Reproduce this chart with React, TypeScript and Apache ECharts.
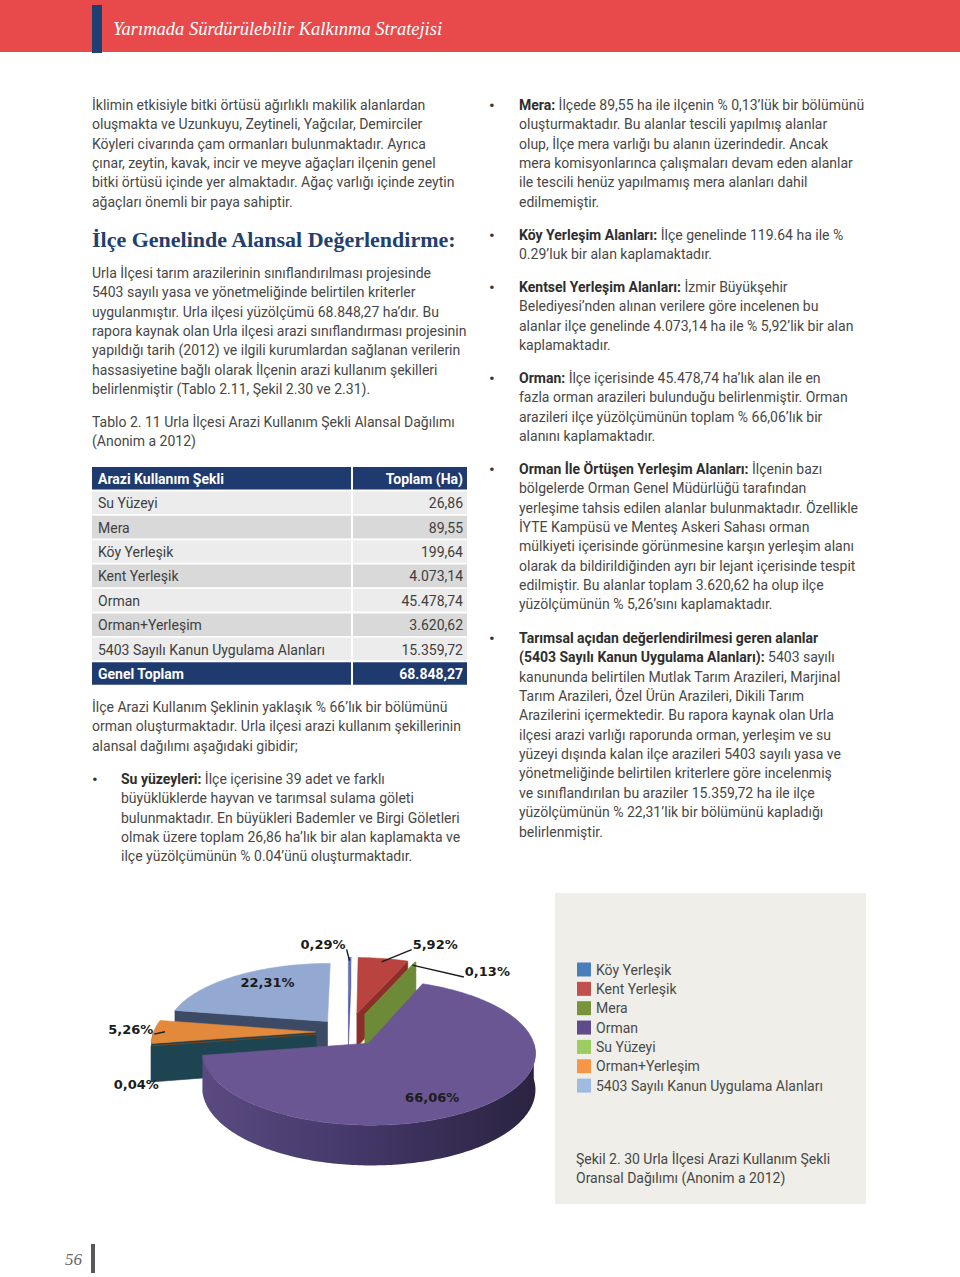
import React, { useEffect, useRef } from "react";
import * as echarts from "echarts";

// ---------- DATA ----------
const categories = [
  "Köy Yerleşik",
  "Kent Yerleşik",
  "Mera",
  "Orman",
  "Su Yüzeyi",
  "Orman+Yerleşim",
  "5403 Sayılı Kanun Uygulama Alanları",
];
const areas = [199.64, 4073.14, 89.55, 45478.74, 26.86, 3620.62, 15359.72];
const tableOrder = [
  "Su Yüzeyi",
  "Mera",
  "Köy Yerleşik",
  "Kent Yerleşik",
  "Orman",
  "Orman+Yerleşim",
  "5403 Sayılı Kanun Uygulama Alanları",
];
const tableHeader = ["Arazi Kullanım Şekli", "Toplam (Ha)"];
const totalLabel = "Genel Toplam";

// ---------- STYLE ----------
const topColors = ["#5c74b6", "#b9443f", "#77933c", "#6a5693", "#7a4318", "#e2893b", "#93a9d1"];
const wallColors = ["#5b57a0", "#8c2f2b", "#6c8a37", "#453866", "#1f4451", "#1f4451", "#3c4a66"];
const legendColors = ["#4a7ebb", "#c0504d", "#77933c", "#5f4a8b", "#9bcd63", "#f79646", "#9fbbe0"];
const explode = [0.28, 0.28, 0.28, 0.2, 0.2, 0.2, 0.2];
const labelOffsets = [[-26.5, -13], [52, -14], [72, 10], [-51, -9], [-15, 38.5], [-23, -2.6], [30, 7]];
const hasLeader = [true, true, true, false, false, true, false];

const FONT = "Roboto, 'Noto Sans', sans-serif";
const SERIF = "'Liberation Serif', 'DejaVu Serif', serif";
const TXT = "#474747";
const BOLD = "#2e2e2e";
const NAVY = "#1e3a6e";

const PIE = { cx: 348, cy: 1032, rx: 162, ry: 70, h: 35, p: 0.13 };

// ---------- TEXT CONTENT ----------
const headerTitle = "Yarımada Sürdürülebilir Kalkınma Stratejisi";
const p1 = [
  "İklimin etkisiyle bitki örtüsü ağırlıklı makilik alanlardan",
  "oluşmakta ve Uzunkuyu, Zeytineli, Yağcılar, Demirciler",
  "Köyleri civarında çam ormanları bulunmaktadır. Ayrıca",
  "çınar, zeytin, kavak, incir ve meyve ağaçları ilçenin genel",
  "bitki örtüsü içinde yer almaktadır. Ağaç varlığı içinde zeytin",
  "ağaçları önemli bir paya sahiptir.",
];
const heading = "İlçe Genelinde Alansal Değerlendirme:";
const p2 = [
  "Urla İlçesi tarım arazilerinin sınıflandırılması projesinde",
  "5403 sayılı yasa ve yönetmeliğinde belirtilen kriterler",
  "uygulanmıştır. Urla ilçesi yüzölçümü 68.848,27 ha’dır. Bu",
  "rapora kaynak olan Urla ilçesi arazi sınıflandırması projesinin",
  "yapıldığı tarih (2012) ve ilgili kurumlardan sağlanan verilerin",
  "hassasiyetine bağlı olarak İlçenin arazi kullanım şekilleri",
  "belirlenmiştir (Tablo 2.11, Şekil 2.30 ve 2.31).",
];
const tableCaption = [
  "Tablo 2. 11 Urla İlçesi Arazi Kullanım Şekli Alansal Dağılımı",
  "(Anonim a 2012)",
];
const p3 = [
  "İlçe Arazi Kullanım Şeklinin yaklaşık % 66’lık bir bölümünü",
  "orman oluşturmaktadır. Urla ilçesi arazi kullanım şekillerinin",
  "alansal dağılımı aşağıdaki gibidir;",
];
const bulletSu = [
  "{b|Su yüzeyleri:} İlçe içerisine 39 adet ve farklı",
  "büyüklüklerde hayvan ve tarımsal sulama göleti",
  "bulunmaktadır. En büyükleri Bademler ve Birgi Göletleri",
  "olmak üzere toplam 26,86 ha’lık bir alan kaplamakta ve",
  "ilçe yüzölçümünün % 0.04’ünü oluşturmaktadır.",
];
const rightBullets: [number, string[]][] = [
  [105, [
    "{b|Mera:} İlçede 89,55 ha ile ilçenin % 0,13’lük bir bölümünü",
    "oluşturmaktadır. Bu alanlar tescili yapılmış alanlar",
    "olup, İlçe mera varlığı bu alanın üzerindedir. Ancak",
    "mera komisyonlarınca çalışmaları devam eden alanlar",
    "ile tescili henüz yapılmamış mera alanları dahil",
    "edilmemiştir.",
  ]],
  [235, [
    "{b|Köy Yerleşim Alanları:} İlçe genelinde 119.64 ha ile %",
    "0.29’luk bir alan kaplamaktadır.",
  ]],
  [287, [
    "{b|Kentsel Yerleşim Alanları:} İzmir Büyükşehir",
    "Belediyesi’nden alınan verilere göre incelenen bu",
    "alanlar ilçe genelinde 4.073,14 ha ile % 5,92’lik bir alan",
    "kaplamaktadır.",
  ]],
  [378, [
    "{b|Orman:} İlçe içerisinde 45.478,74 ha’lık alan ile en",
    "fazla orman arazileri bulunduğu belirlenmiştir. Orman",
    "arazileri ilçe yüzölçümünün toplam % 66,06’lık bir",
    "alanını kaplamaktadır.",
  ]],
  [469, [
    "{b|Orman İle Örtüşen Yerleşim Alanları:} İlçenin bazı",
    "bölgelerde Orman Genel Müdürlüğü tarafından",
    "yerleşime tahsis edilen alanlar bulunmaktadır. Özellikle",
    "İYTE Kampüsü ve Menteş Askeri Sahası orman",
    "mülkiyeti içerisinde görünmesine karşın yerleşim alanı",
    "olarak da bildirildiğinden ayrı bir lejant içerisinde tespit",
    "edilmiştir. Bu alanlar toplam 3.620,62 ha olup ilçe",
    "yüzölçümünün % 5,26’sını kaplamaktadır.",
  ]],
  [638, [
    "{b|Tarımsal açıdan değerlendirilmesi geren alanlar}",
    "{b|(5403 Sayılı Kanun Uygulama Alanları):} 5403 sayılı",
    "kanununda belirtilen Mutlak Tarım Arazileri, Marjinal",
    "Tarım Arazileri, Özel Ürün Arazileri, Dikili Tarım",
    "Arazilerini içermektedir. Bu rapora kaynak olan Urla",
    "ilçesi arazi varlığı raporunda orman, yerleşim ve su",
    "yüzeyi dışında kalan ilçe arazileri 5403 sayılı yasa ve",
    "yönetmeliğinde belirtilen kriterlere göre incelenmiş",
    "ve sınıflandırılan bu araziler 15.359,72 ha ile ilçe",
    "yüzölçümünün % 22,31’lik bir bölümünü kapladığı",
    "belirlenmiştir.",
  ]],
];
const figCaption = [
  "Şekil 2. 30 Urla İlçesi Arazi Kullanım Şekli",
  "Oransal Dağılımı (Anonim a 2012)",
];
const pageNumber = "56";

// ---------- HELPERS ----------
const RICH = { b: { fontWeight: "bold", fontSize: 14, fontFamily: FONT, fill: BOLD } };
function T(x: number, y: number, text: string, o: any = {}) {
  const align = o.align || "left";
  return {
    type: "text",
    x,
    y,
    silent: true,
    z: 10,
    style: {
      text,
      fill: o.fill || TXT,
      fontSize: o.size || 14,
      fontFamily: o.family || FONT,
      fontWeight: o.weight || "normal",
      fontStyle: o.fstyle || "normal",
      align,
      verticalAlign: "middle",
      textAlign: align,
      textVerticalAlign: "middle",
      rich: RICH,
    },
  };
}
const STEP = 19.35;
function para(x: number, y0: number, lines: string[], o: any = {}) {
  return lines.map((l, k) => T(x, y0 + k * STEP, l, o));
}
function fmt(v: number) {
  const [i, d] = v.toFixed(2).split(".");
  return i.replace(/\B(?=(\d{3})+(?!\d))/g, ".") + "," + d;
}

const total = areas.reduce((a, b) => a + b, 0);
const angles: number[][] = [];
{
  let acc = 0;
  areas.forEach((v) => {
    const a0 = (acc / total) * 360;
    acc += v;
    angles.push([a0, (acc / total) * 360]);
  });
}
const rad = (d: number) => (d * Math.PI) / 180;
function proj(u: number, v: number) {
  const s = 1 + PIE.p * v;
  return [PIE.cx + PIE.rx * u * s, PIE.cy + PIE.ry * v * s, s];
}
function geom(i: number) {
  const [a0, a1] = angles[i];
  const m = (a0 + a1) / 2;
  const e = explode[i];
  const ou = e * Math.sin(rad(m));
  const ov = -e * Math.cos(rad(m));
  const rim = (t: number, r = 1) => proj(ou + r * Math.sin(rad(t)), ov - r * Math.cos(rad(t)));
  return { a0, a1, m, ou, ov, rim, apex: proj(ou, ov) };
}
function arcPts(G: any, t0: number, t1: number) {
  const n = Math.max(2, Math.ceil((t1 - t0) / 1));
  const pts: number[][] = [];
  for (let k = 0; k <= n; k++) pts.push(G.rim(t0 + ((t1 - t0) * k) / n));
  return pts;
}
const down = (p: number[]) => [p[0], p[1] + PIE.h * p[2]];
const xy = (p: number[]) => [p[0], p[1]];
const depthOrder = categories
  .map((_, i) => i)
  .sort((a, b) => -Math.cos(rad(geom(a).m)) - -Math.cos(rad(geom(b).m)));
const pctText = (i: number) => ((areas[i] / total) * 100).toFixed(2).replace(".", ",") + "%";
function labelWidth(s: string) {
  let w = 0;
  for (const c of s) w += c === "," ? 4.9 : c === "%" ? 13 : 9.05;
  return w;
}

function buildOption() {
  const g: any[] = [];
  // header band
  g.push({ type: "rect", shape: { x: 0, y: 0, width: 960, height: 52 }, style: { fill: "#e84a4c" } });
  g.push({ type: "rect", shape: { x: 92, y: 5, width: 10, height: 48 }, style: { fill: "#1e3f73" } });
  g.push(T(113, 29, headerTitle, { family: SERIF, size: 18.5, fstyle: "italic", fill: "#ffffff" }));

  // left column
  g.push(...para(92, 105, p1));
  g.push(T(92, 239, heading, { family: SERIF, size: 22, weight: "bold", fill: "#233f6e" }));
  g.push(...para(92, 273, p2));
  g.push(...para(92, 422, tableCaption));

  // table
  const rowTop = (r: number) => 467 + r * 24.4;
  const RH = 22.6;
  const c1x = 92, c1w = 259, c2x = 353, c2w = 114;
  const rows: string[][] = [tableHeader];
  tableOrder.forEach((name) => rows.push([name, fmt(areas[categories.indexOf(name)])]));
  rows.push([totalLabel, fmt(total)]);
  rows.forEach((row, r) => {
    const isNavy = r === 0 || r === rows.length - 1;
    const fill = isNavy ? NAVY : r % 2 === 1 ? "#ececec" : "#d9d9d9";
    g.push({ type: "rect", shape: { x: c1x, y: rowTop(r), width: c1w, height: RH }, style: { fill } });
    g.push({ type: "rect", shape: { x: c2x, y: rowTop(r), width: c2w, height: RH }, style: { fill } });
    const o = isNavy ? { fill: "#ffffff", weight: "bold" } : { fill: "#404040" };
    g.push(T(c1x + 6, rowTop(r) + RH / 2 + 0.5, row[0], o));
    g.push(T(c2x + c2w - 4, rowTop(r) + RH / 2 + 0.5, row[1], { ...o, align: "right" }));
  });

  g.push(...para(92, 707, p3));
  g.push(T(92, 779, "•", { size: 17, fill: "#333333" }));
  g.push(...para(121, 779, bulletSu));

  // right column
  rightBullets.forEach(([y0, lines]) => {
    g.push(T(489, y0, "•", { size: 17, fill: "#333333" }));
    g.push(...para(519, y0, lines));
  });

  // legend box
  g.push({ type: "rect", shape: { x: 555, y: 893, width: 311, height: 311 }, style: { fill: "#efeee8" } });
  categories.forEach((name, i) => {
    const y = 969.5 + i * 19.35;
    g.push({ type: "rect", z: 10, shape: { x: 577, y: y - 7, width: 14, height: 14 }, style: { fill: legendColors[i] } });
    g.push(T(596, y, name, { fill: "#4a4a4a" }));
  });
  g.push(...para(576, 1159, figCaption));

  // page number
  g.push(T(82, 1259, pageNumber, { family: SERIF, size: 17, fstyle: "italic", fill: "#666666", align: "right" }));
  g.push({ type: "rect", shape: { x: 91, y: 1244, width: 4, height: 29 }, style: { fill: "#595959" } });

  const ormanIdx = categories.indexOf("Orman");
  const ormanGrad = new echarts.graphic.LinearGradient(0, 0, 1, 0, [
    { offset: 0, color: "#5a4a80" },
    { offset: 0.45, color: "#45386a" },
    { offset: 1, color: "#2a2340" },
  ]);

  const walls = {
    type: "custom",
    coordinateSystem: "none",
    silent: true,
    z: 2,
    data: depthOrder.map((i) => [i]),
    renderItem: (_p: any, api: any) => {
      const i = api.value(0) as number;
      const G = geom(i);
      const col = wallColors[i];
      const ch: any[] = [];
      const radial = (t: number) => {
        const r = G.rim(t);
        return {
          type: "polygon",
          shape: { points: [xy(G.apex), xy(r), down(r), down(G.apex)] },
          style: { fill: col, stroke: col, lineWidth: 0.6 },
        };
      };
      if (Math.sin(rad(G.a0)) < -1e-6) ch.push(radial(G.a0));
      if (Math.sin(rad(G.a1)) > 1e-6) ch.push(radial(G.a1));
      const t0 = Math.max(G.a0, 90), t1 = Math.min(G.a1, 270);
      if (t1 > t0) {
        const top = arcPts(G, t0, t1);
        const bottom = top.map(down).reverse();
        const fill = i === ormanIdx ? ormanGrad : col;
        ch.push({
          type: "polygon",
          shape: { points: [...top.map(xy), ...bottom] },
          style: { fill, stroke: i === ormanIdx ? null : col, lineWidth: 0.6 },
        });
      }
      return { type: "group", children: ch };
    },
  };

  const tops = {
    type: "custom",
    coordinateSystem: "none",
    silent: true,
    z: 3,
    data: depthOrder.map((i) => [i]),
    renderItem: (_p: any, api: any) => {
      const i = api.value(0) as number;
      const G = geom(i);
      const pts = [xy(G.apex), ...arcPts(G, G.a0, G.a1).map(xy)];
      return {
        type: "polygon",
        shape: { points: pts },
        style: { fill: topColors[i], stroke: topColors[i], lineWidth: 0.6 },
      };
    },
  };

  const labels = {
    type: "custom",
    coordinateSystem: "none",
    silent: true,
    z: 4,
    data: categories.map((_, i) => [i]),
    renderItem: (_p: any, api: any) => {
      const i = api.value(0) as number;
      const G = geom(i);
      const base = G.rim(G.m, 1);
      const lx = base[0] + labelOffsets[i][0];
      const ly = base[1] + labelOffsets[i][1];
      const text = pctText(i);
      const ch: any[] = [
        {
          type: "text",
          x: lx,
          y: ly,
          style: {
            text,
            fill: "#1c1c1c",
            fontSize: 13,
            fontFamily: "'DejaVu Sans', sans-serif",
            fontWeight: "bold",
            align: "center",
            verticalAlign: "middle",
            textAlign: "center",
            textVerticalAlign: "middle",
          },
        },
      ];
      if (hasLeader[i]) {
        const anchor = G.rim(G.m, 0.93);
        const w = labelWidth(text);
        const end = lx < anchor[0] ? [lx + w / 2 + 1, ly + 5] : [lx - w / 2 - 1, ly + 5];
        ch.push({
          type: "polyline",
          shape: { points: [xy(anchor), end] },
          style: { stroke: "#1c1c1c", lineWidth: 1.4, fill: null },
        });
      }
      return { type: "group", children: ch };
    },
  };

  return {
    animation: false,
    backgroundColor: "#ffffff",
    graphic: { elements: g },
    series: [walls, tops, labels],
  };
}

export default function App() {
  const ref = useRef<HTMLDivElement>(null);
  useEffect(() => {
    const chart = echarts.init(ref.current as HTMLDivElement, null, {
      renderer: "svg",
      width: 960,
      height: 1277,
    });
    chart.setOption(buildOption() as any);
    return () => chart.dispose();
  }, []);
  return (
    <div
      ref={ref}
      style={{ position: "absolute", left: 0, top: 0, width: 960, height: 1277 }}
    />
  );
}
